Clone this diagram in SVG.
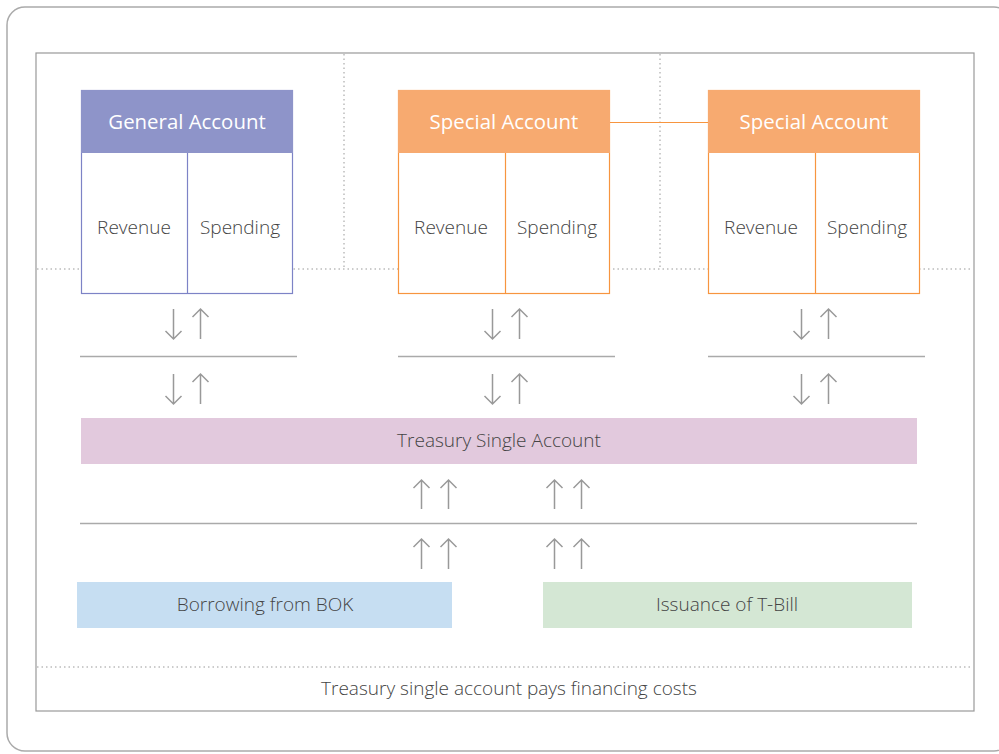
<svg xmlns="http://www.w3.org/2000/svg" width="999" height="754" viewBox="0 0 999 754">
<style>
.t{font-family:"Open Sans","Noto Sans","Liberation Sans",sans-serif;font-weight:300;fill:#444;text-anchor:middle;font-size:19px}
.hd{font-family:"Open Sans","Noto Sans","Liberation Sans",sans-serif;font-weight:400;fill:#fff;text-anchor:middle;font-size:20.4px}
.dot{stroke:#999;stroke-width:1;stroke-dasharray:1.5 3;fill:none}
.ar{stroke:#999;stroke-width:1.5;fill:none}
.sep{stroke:#aaa;stroke-width:1.5}
.ga{fill:#fff;stroke:#7d83c6;stroke-width:1.2}
.sa{fill:#fff;stroke:#f7953f;stroke-width:1.2}
</style>
<rect width="999" height="754" fill="#fff"/>
<rect x="7" y="7" width="1005" height="744" rx="18" fill="none" stroke="#aaa" stroke-width="1.5"/>
<rect x="36" y="53" width="938" height="658" fill="none" stroke="#999" stroke-width="1.2"/>
<g id="grid">
<line class="dot" x1="344" y1="54" x2="344" y2="269"/>
<line class="dot" x1="660" y1="54" x2="660" y2="269"/>
<line class="dot" x1="37" y1="269" x2="973" y2="269"/>
<line class="dot" x1="37" y1="667" x2="973" y2="667"/>
</g>
<g id="connectors">
<line x1="610" y1="122.5" x2="708" y2="122.5" stroke="#f7953f" stroke-width="1.2"/>
<line class="sep" x1="80" y1="356.5" x2="297" y2="356.5"/>
<line class="sep" x1="398" y1="356.5" x2="615" y2="356.5"/>
<line class="sep" x1="708" y1="356.5" x2="925" y2="356.5"/>
<line class="sep" x1="80" y1="523.5" x2="917" y2="523.5"/>
<g class="ar">
<path d="M173.5 309V339M165.5 331L173.5 339L181.5 331"/>
<path d="M200.5 339V309M192.5 317L200.5 309L208.5 317"/>
<path d="M173.5 374V404M165.5 396L173.5 404L181.5 396"/>
<path d="M200.5 404V374M192.5 382L200.5 374L208.5 382"/>
<path d="M492.5 309V339M484.5 331L492.5 339L500.5 331"/>
<path d="M519.5 339V309M511.5 317L519.5 309L527.5 317"/>
<path d="M492.5 374V404M484.5 396L492.5 404L500.5 396"/>
<path d="M519.5 404V374M511.5 382L519.5 374L527.5 382"/>
<path d="M801.5 309V339M793.5 331L801.5 339L809.5 331"/>
<path d="M828.5 339V309M820.5 317L828.5 309L836.5 317"/>
<path d="M801.5 374V404M793.5 396L801.5 404L809.5 396"/>
<path d="M828.5 404V374M820.5 382L828.5 374L836.5 382"/>
<path d="M421.5 509V480M413.5 488L421.5 480L429.5 488"/>
<path d="M448.5 509V480M440.5 488L448.5 480L456.5 488"/>
<path d="M554.5 509V480M546.5 488L554.5 480L562.5 488"/>
<path d="M581.5 509V480M573.5 488L581.5 480L589.5 488"/>
<path d="M421.5 569V539M413.5 547L421.5 539L429.5 547"/>
<path d="M448.5 569V539M440.5 547L448.5 539L456.5 547"/>
<path d="M554.5 569V539M546.5 547L554.5 539L562.5 547"/>
<path d="M581.5 569V539M573.5 547L581.5 539L589.5 547"/>
</g>
</g>
<g id="general">
<rect class="ga" x="81.5" y="90.5" width="211" height="203"/>
<rect x="81" y="90" width="212" height="63" fill="#8e94c9"/>
<line x1="187.5" y1="153" x2="187.5" y2="294" stroke="#7d83c6" stroke-width="1.2"/>
<text class="hd" x="187" y="129">General Account</text>
<text class="t" x="134" y="234">Revenue</text>
<text class="t" x="240" y="234">Spending</text>
</g>
<g id="special1">
<rect class="sa" x="398.5" y="90.5" width="211" height="203"/>
<rect x="398" y="90" width="212" height="63" fill="#f7aa70"/>
<line x1="505.5" y1="153" x2="505.5" y2="294" stroke="#f7953f" stroke-width="1.2"/>
<text class="hd" x="504" y="129">Special Account</text>
<text class="t" x="451" y="234">Revenue</text>
<text class="t" x="557" y="234">Spending</text>
</g>
<g id="special2">
<rect class="sa" x="708.5" y="90.5" width="211" height="203"/>
<rect x="708" y="90" width="212" height="63" fill="#f7aa70"/>
<line x1="815.5" y1="153" x2="815.5" y2="294" stroke="#f7953f" stroke-width="1.2"/>
<text class="hd" x="814" y="129">Special Account</text>
<text class="t" x="761" y="234">Revenue</text>
<text class="t" x="867" y="234">Spending</text>
</g>
<g id="treasury">
<rect x="81" y="418" width="836" height="46" fill="#e2c9dd"/>
<text class="t" x="499" y="447">Treasury Single Account</text>
</g>
<g id="borrowing">
<rect x="77" y="582" width="375" height="46" fill="#c6def2"/>
<text class="t" x="265" y="611">Borrowing from BOK</text>
</g>
<g id="tbill">
<rect x="543" y="582" width="369" height="46" fill="#d4e7d4"/>
<text class="t" x="727" y="611">Issuance of T-Bill</text>
</g>
<g id="footer">
<text class="t" x="509" y="695">Treasury single account pays financing costs</text>
</g>
</svg>
